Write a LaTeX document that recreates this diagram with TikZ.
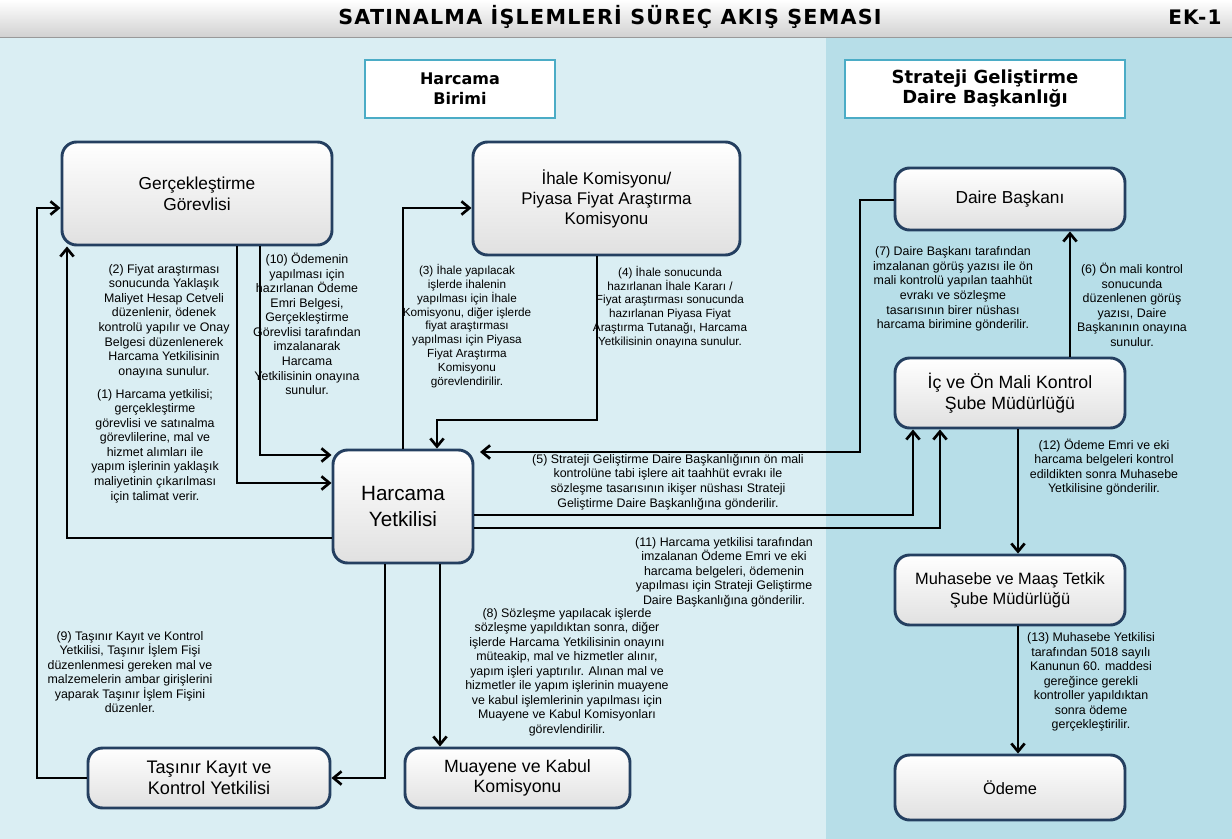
\documentclass[tikz,border=0pt]{standalone}
\usepackage{fontspec}
\setmainfont{Liberation Sans}
\newfontfamily\titlefont{DejaVu Sans}
\newfontfamily\titlefontsp[LetterSpace=6]{DejaVu Sans}
\usetikzlibrary{arrows.meta}
\definecolor{lpanel}{HTML}{DAEEF3}
\definecolor{rpanel}{HTML}{B7DEE8}
\definecolor{nodeborder}{HTML}{243F60}
\definecolor{hdrborder}{HTML}{4BACC6}
\begin{document}
\begin{tikzpicture}[x=0.75pt,y=-0.75pt,
  proc/.style={draw=nodeborder,line width=2.2pt,rounded corners=11pt,top color=white,bottom color=black!12,align=center,inner sep=2pt},
  hdr/.style={draw=hdrborder,line width=1.5pt,fill=white,align=center,minimum height=43.5pt},
  note/.style={align=center,font=\fontsize{9.3}{10.9}\selectfont,inner sep=0pt},
  smallnote/.style={align=center,font=\fontsize{8.8}{10.4}\selectfont,inner sep=0pt},
  arr/.style={line width=2.2pt,-{Straight Barb[length=6pt,width=10pt,line width=2pt]}}
]
\useasboundingbox (0,0) rectangle (1232,839);
% backgrounds
\shade[top color=white,bottom color=black!18] (0,0) rectangle (1232,37);
\fill[lpanel] (0,38) rectangle (826,839);
\fill[rpanel] (826,38) rectangle (1232,839);
\draw[black!40,line width=0.6pt] (0,37.5) -- (1232,37.5);
% title
\node[font=\titlefontsp\bfseries\fontsize{15.5}{17}\selectfont] (title) at (610,17) {SATINALMA İŞLEMLERİ SÜREÇ AKIŞ ŞEMASI};
\node[font=\titlefontsp\bfseries\fontsize{15}{17}\selectfont] (ek) at (1195,17) {EK-1};
% headers
\node[hdr,minimum width=142.5pt,font=\titlefont\bfseries\fontsize{12}{15}\selectfont] (hb) at (460,89) {Harcama\\Birimi};
\node[hdr,minimum width=210pt,font=\titlefont\bfseries\fontsize{13.5}{15}\selectfont] (sg) at (985,89) {Strateji Geliştirme\\Daire Başkanlığı};
% process nodes
\node[proc,minimum width=202.5pt,minimum height=77.25pt,font=\fontsize{13}{15.5}\selectfont] (gg) at (197,193.5) {Gerçekleştirme\\Görevlisi};
\node[proc,minimum width=200.25pt,minimum height=84.75pt,font=\fontsize{12.7}{15}\selectfont] (ik) at (606.5,198.5) {İhale Komisyonu/\\Piyasa Fiyat Araştırma\\Komisyonu};
\node[proc,minimum width=172.5pt,minimum height=46.5pt,font=\fontsize{13}{15.5}\selectfont] (db) at (1010,199) {Daire Başkanı};
\node[proc,minimum width=172.5pt,minimum height=52.5pt,font=\fontsize{13.3}{15.5}\selectfont] (ic) at (1010,393) {İç ve Ön Mali Kontrol\\Şube Müdürlüğü};
\node[proc,minimum width=105pt,minimum height=84.75pt,font=\fontsize{15.5}{20}\selectfont] (hy) at (403,506.5) {Harcama\\Yetkilisi};
\node[proc,minimum width=172.5pt,minimum height=52.5pt,font=\fontsize{12.3}{15}\selectfont] (mm) at (1010,590) {Muhasebe ve Maaş Tetkik\\Şube Müdürlüğü};
\node[proc,minimum width=181.5pt,minimum height=45pt,font=\fontsize{13.6}{15.5}\selectfont] (tk) at (209,778) {Taşınır Kayıt ve\\Kontrol Yetkilisi};
\node[proc,minimum width=168.75pt,minimum height=45pt,font=\fontsize{13.3}{15.5}\selectfont] (mk) at (517.5,778) {Muayene ve Kabul\\Komisyonu};
\node[proc,minimum width=172.5pt,minimum height=48.75pt,font=\fontsize{12.3}{15}\selectfont] (od) at (1010,787.5) {Ödeme};
% notes
\node[note] (n2) at (164,321) {(2) Fiyat araştırması\\sonucunda Yaklaşık\\Maliyet Hesap Cetveli\\düzenlenir, ödenek\\kontrolü yapılır ve Onay\\Belgesi düzenlenerek\\Harcama Yetkilisinin\\onayına sunulur.};
\node[note] (n10) at (307,324) {(10) Ödemenin\\yapılması için\\hazırlanan Ödeme\\Emri Belgesi,\\Gerçekleştirme\\Görevlisi tarafından\\imzalanarak\\Harcama\\Yetkilisinin onayına\\sunulur.};
\node[smallnote] (n3) at (467,326) {(3) İhale yapılacak\\işlerde ihalenin\\yapılması için İhale\\Komisyonu, diğer işlerde\\fiyat araştırması\\yapılması için Piyasa\\Fiyat Araştırma\\Komisyonu\\görevlendirilir.};
\node[smallnote] (n4) at (670,307) {(4) İhale sonucunda\\hazırlanan İhale Kararı /\\Fiyat araştırması sonucunda\\hazırlanan Piyasa Fiyat\\Araştırma Tutanağı, Harcama\\Yetkilisinin onayına sunulur.};
\node[note] (n1) at (155,446) {(1) Harcama yetkilisi;\\gerçekleştirme\\görevlisi ve satınalma\\görevlilerine, mal ve\\hizmet alımları ile\\yapım işlerinin yaklaşık\\maliyetinin çıkarılması\\için talimat verir.};
\node[note] (n5) at (668,482) {(5) Strateji Geliştirme Daire Başkanlığının ön mali\\kontrolüne tabi işlere ait taahhüt evrakı ile\\sözleşme tasarısının ikişer nüshası Strateji\\Geliştirme Daire Başkanlığına gönderilir.};
\node[note] (n11) at (724,572) {(11) Harcama yetkilisi tarafından\\imzalanan Ödeme Emri ve eki\\harcama belgeleri, ödemenin\\yapılması için Strateji Geliştirme\\Daire Başkanlığına gönderilir.};
\node[note] (n7) at (953,289) {(7) Daire Başkanı tarafından\\imzalanan görüş yazısı ile ön\\mali kontrolü yapılan taahhüt\\evrakı ve sözleşme\\tasarısının birer nüshası\\harcama birimine gönderilir.};
\node[note] (n6) at (1132,305) {(6) Ön mali kontrol\\sonucunda\\düzenlenen görüş\\yazısı, Daire\\Başkanının onayına\\sunulur.};
\node[note] (n12) at (1104,467) {(12) Ödeme Emri ve eki\\harcama belgeleri kontrol\\edildikten sonra Muhasebe\\Yetkilisine gönderilir.};
\node[note] (n13) at (1091,682) {(13) Muhasebe Yetkilisi\\tarafından 5018 sayılı\\Kanunun 60. maddesi\\gereğince gerekli\\kontroller yapıldıktan\\sonra ödeme\\gerçekleştirilir.};
\node[note] (n9) at (130,672) {(9) Taşınır Kayıt ve Kontrol\\Yetkilisi, Taşınır İşlem Fişi\\düzenlenmesi gereken mal ve\\malzemelerin ambar girişlerini\\yaparak Taşınır İşlem Fişini\\düzenler.};
\node[note] (n8) at (567,672) {(8) Sözleşme yapılacak işlerde\\sözleşme yapıldıktan sonra, diğer\\işlerde Harcama Yetkilisinin onayını\\müteakip, mal ve hizmetler alınır,\\yapım işleri yaptırılır. Alınan mal ve\\hizmetler ile yapım işlerinin muayene\\ve kabul işlemlerinin yapılması için\\Muayene ve Kabul Komisyonları\\görevlendirilir.};
% connectors
\draw[arr] (tk.west) -| (37,208) -- (gg.west |- 0,208);
\draw[arr] (hy.west |- 0,538) -| (gg.south -| 67,0);
\draw[arr] (gg.south -| 237,0) |- (hy.west |- 0,483);
\draw[arr] (gg.south -| 260,0) |- (hy.west |- 0,455);
\draw[arr] (hy.north -| 403,0) |- (ik.west |- 0,208);
\draw[arr] (ik.south -| 597,0) |- (437,420) -- (hy.north -| 437,0);
\draw[arr] (db.west |- 0,200) -| (860,452) -- (480,452);
\draw[arr] (hy.east |- 0,515) -| (ic.south -| 913,0);
\draw[arr] (hy.east |- 0,528) -| (ic.south -| 940,0);
\draw[arr] (ic.north -| 1070,0) -- (db.south -| 1070,0);
\draw[arr] (ic.south -| 1018,0) -- (mm.north -| 1018,0);
\draw[arr] (mm.south -| 1018,0) -- (od.north -| 1018,0);
\draw[arr] (hy.south -| 440,0) -- (mk.north -| 440,0);
\draw[arr] (hy.south -| 385,0) |- (tk.east);
\end{tikzpicture}
\end{document}
